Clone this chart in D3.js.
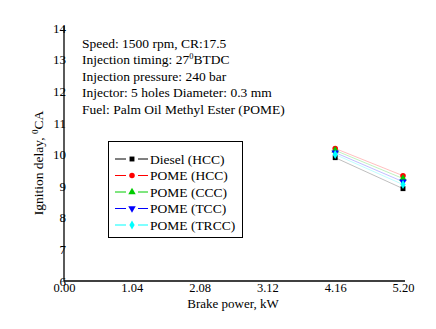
<!DOCTYPE html>
<html><head><meta charset="utf-8">
<script src="https://cdn.jsdelivr.net/npm/d3@7"></script>
<style>body{margin:0;background:#fff}svg{display:block;font-family:"Liberation Serif","Times New Roman",serif}</style>
</head><body><svg id="c" width="436" height="329"></svg>
<script>
const brakePower = [4.16, 5.20];
const xTicks = [0.00, 1.04, 2.08, 3.12, 4.16, 5.20];
const yTicks = [6, 7, 8, 9, 10, 11, 12, 13, 14];
const seriesNames = ["Diesel (HCC)", "POME (HCC)", "POME (CCC)", "POME (TCC)", "POME (TRCC)"];
const seriesColors = ["#000000", "#ff0000", "#00cc00", "#0000ff", "#00ffff"];
const seriesSymbols = ["square", "circle", "triangle", "triangleDown", "diamond"];
const dieselHCC = [9.90, 8.92];
const pomeHCC = [10.19, 9.33];
const pomeCCC = [10.13, 9.24];
const pomeTCC = [10.06, 9.14];
const pomeTRCC = [10.00, 9.05];
const seriesValues = [dieselHCC, pomeHCC, pomeCCC, pomeTCC, pomeTRCC];
const notes = ["Speed: 1500 rpm, CR:17.5", "Injection timing: 27|0|BTDC", "Injection pressure: 240 bar", "Injector: 5 holes Diameter: 0.3 mm", "Fuel: Palm Oil Methyl Ester (POME)"];

const svg = d3.select("#c");
const x = d3.scaleLinear().domain([0, 5.2]).range([64, 403]);
const y = d3.scaleLinear().domain([6, 14]).range([281, 28]);

function sym(name, size) {
  const tri = d3.symbolTriangle;
  if (name === "square") return d3.symbol(d3.symbolSquare, size)();
  if (name === "circle") return d3.symbol(d3.symbolCircle, size)();
  if (name === "triangle") return d3.symbol(tri, size)();
  if (name === "triangleDown") return d3.symbol(tri, size)();
  if (name === "diamond") return d3.symbol(d3.symbolDiamond, size)();
}

// axes
const gx = svg.append("g").attr("transform", "translate(0,281)")
  .call(d3.axisBottom(x).tickValues(xTicks).tickFormat(d3.format(".2f")).tickSize(0).tickPadding(2));
gx.select(".domain").remove();
gx.selectAll("text").attr("font-size", 12.5).attr("font-family", "Liberation Serif").attr("fill", "#000");
const gy = svg.append("g").attr("transform", "translate(66,0)")
  .call(d3.axisLeft(y).tickValues(yTicks).tickFormat(d3.format("d")).tickSize(0).tickPadding(0));
gy.select(".domain").remove();
gy.selectAll("text").attr("font-size", 13).attr("font-family", "Liberation Serif").attr("fill", "#000");

svg.append("line").attr("x1", x(0)).attr("x2", x(0)).attr("y1", y(14) - 2).attr("y2", y(6)).attr("stroke", "#000").attr("stroke-width", 1.3);
svg.append("line").attr("x1", x(0)).attr("x2", x(5.2) + 2).attr("y1", y(6)).attr("y2", y(6)).attr("stroke", "#000").attr("stroke-width", 1.3);

// titles
svg.append("text").attr("x", 233).attr("y", 308).attr("text-anchor", "middle").attr("font-size", 13).text("Brake power, kW");
const yt = svg.append("text").attr("transform", "translate(43,163) rotate(-90)").attr("text-anchor", "middle").attr("font-size", 13.5);
yt.append("tspan").text("Ignition delay, ");
yt.append("tspan").attr("font-size", 9).attr("dy", -5).text("0");
yt.append("tspan").attr("dy", 5).text("CA");

// notes
notes.forEach((n, i) => {
  const t = svg.append("text").attr("x", 82).attr("y", 47.5 + i * 16.6).attr("font-size", 13.5);
  const parts = n.split("|");
  if (parts.length === 3) {
    t.append("tspan").text(parts[0]);
    t.append("tspan").attr("font-size", 8.5).attr("dy", -5).text(parts[1]);
    t.append("tspan").attr("dy", 5).text(parts[2]);
  } else t.text(n);
});

// lines
const line = d3.line().x((d, i) => x(brakePower[i])).y(d => y(d));
seriesValues.forEach((vals, k) => {
  svg.append("path").attr("d", line(vals)).attr("fill", "none")
    .attr("stroke", seriesColors[k]).attr("stroke-opacity", 0.25).attr("stroke-width", 1);
});
// markers
seriesValues.forEach((vals, k) => {
  vals.forEach((v, i) => {
    svg.append("path").attr("d", sym(seriesSymbols[k], 24))
      .attr("transform", `translate(${x(brakePower[i])},${y(v)})` + (seriesSymbols[k] === "triangleDown" ? " rotate(180)" : ""))
      .attr("fill", seriesColors[k]);
  });
});

// legend
svg.append("rect").attr("x", 108.5).attr("y", 141.5).attr("width", 134).attr("height", 96)
  .attr("fill", "#fff").attr("stroke", "#000").attr("stroke-width", 1);
seriesNames.forEach((name, k) => {
  const cy = 159 + k * 16.5;
  svg.append("line").attr("x1", 115).attr("x2", 148).attr("y1", cy).attr("y2", cy).attr("stroke", seriesColors[k]).attr("stroke-width", 1);
  svg.append("rect").attr("x", 126).attr("y", cy - 1).attr("width", 12).attr("height", 2).attr("fill", "#fff");
  svg.append("path").attr("d", sym(seriesSymbols[k], 24))
    .attr("transform", `translate(132,${cy})` + (seriesSymbols[k] === "triangleDown" ? " rotate(180)" : ""))
    .attr("fill", seriesColors[k]);
  svg.append("text").attr("x", 150).attr("y", cy + 4.5).attr("font-size", 13.5).text(name);
});
</script></body></html>
